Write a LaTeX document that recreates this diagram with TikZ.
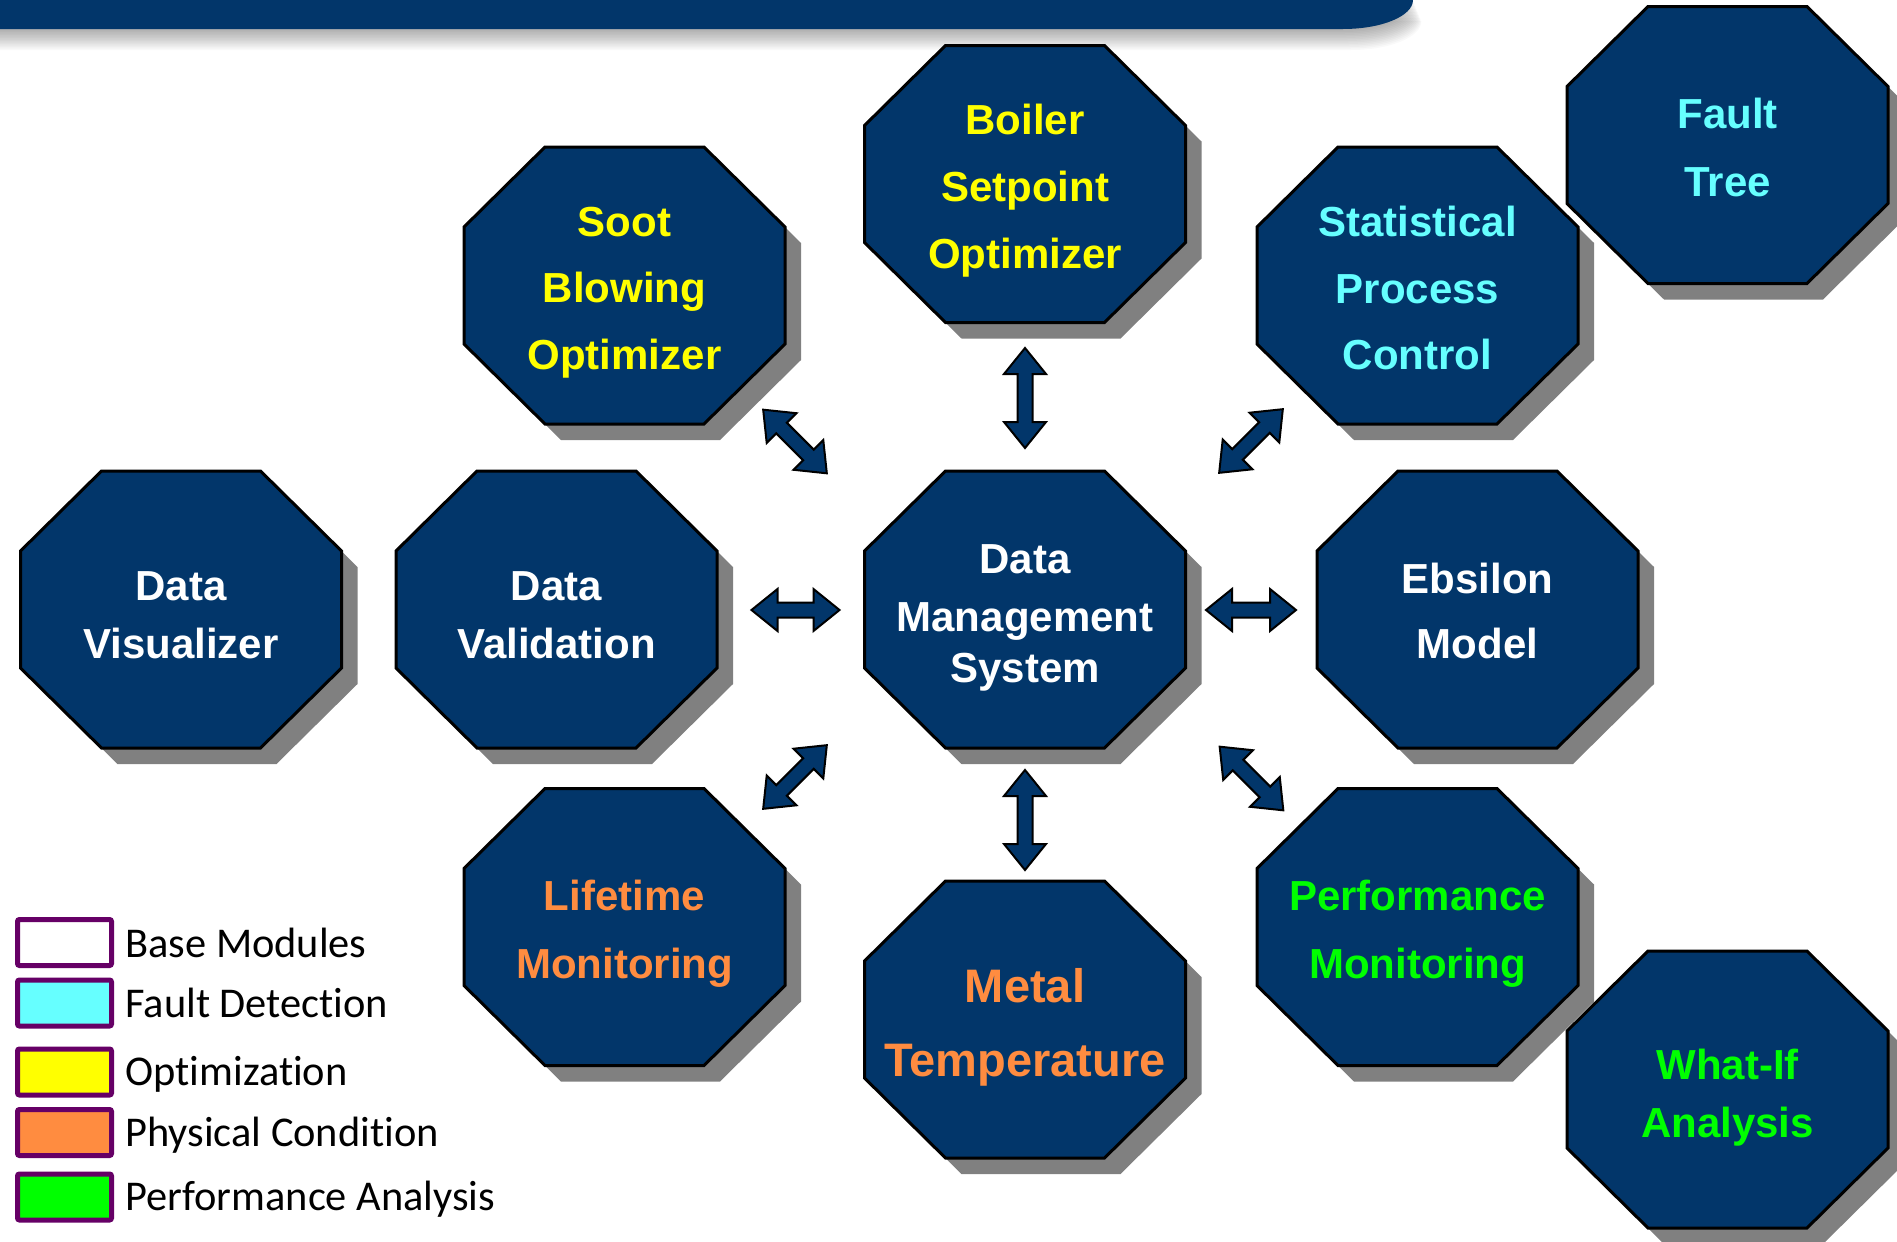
\documentclass[tikz,border=0pt]{standalone}
\usepackage{fontspec}
\setmainfont{Liberation Sans}
\newfontfamily\legendfont[Ligatures=NoCommon]{Carlito}

% palette
\definecolor{navy}{RGB}{2,54,106}
\definecolor{shadowgray}{RGB}{128,128,128}
\definecolor{optyellow}{RGB}{255,255,0}
\definecolor{faultcyan}{RGB}{102,255,255}
\definecolor{physorange}{RGB}{255,140,64}
\definecolor{perfgreen}{RGB}{0,255,0}
\definecolor{keypurple}{RGB}{102,0,102}

\tikzset{
  modbody/.style={fill=navy, draw=black, line width=1.5pt, line join=miter},
  modshadow/.style={fill=shadowgray},
  modtext/.style={align=center, inner sep=0pt},
  blockarrow/.style={fill=navy, draw=black, line width=1pt, line join=miter},
  keybox/.style={draw=keypurple, line width=2.5pt, rounded corners=1pt,
    minimum width=47pt, minimum height=23pt, inner sep=0pt},
  keytext/.style={font=\legendfont\fontsize{21.2}{25}\selectfont,
    anchor=base west, inner sep=0pt},
  % double-headed block arrow, #1 = half length
  pics/dblarrow/.style={code={
    \draw[blockarrow] (-#1,0) -- (-#1+26,-21) -- (-#1+26,-7.5) -- (#1-26,-7.5)
      -- (#1-26,-21) -- (#1,0) -- (#1-26,21) -- (#1-26,7.5) -- (-#1+26,7.5)
      -- (-#1+26,21) -- cycle;
  }}
}

% octagonal module with drop shadow
% #1 name, #2 x, #3 y, #4 text colour, #5 font size, #6 label, #7 label drop
\newcommand\module[7]{%
  \fill[modshadow, shift={({#2+16},{#3+16})}]
    (-79.5,-138.5) -- (79.5,-138.5) -- (160.5,-58.5) -- (160.5,58.5)
    -- (79.5,138.5) -- (-79.5,138.5) -- (-160.5,58.5) -- (-160.5,-58.5) -- cycle;
  \draw[modbody, shift={(#2,#3)}]
    (-79.5,-138.5) -- (79.5,-138.5) -- (160.5,-58.5) -- (160.5,58.5)
    -- (79.5,138.5) -- (-79.5,138.5) -- (-160.5,58.5) -- (-160.5,-58.5) -- cycle;
  \node[modtext, text=#4, font=\bfseries#5\selectfont] (#1) at (#2,{#3+#7}) {#6};
}

\begin{document}
\begin{tikzpicture}[x=0.5pt, y=-0.5pt]
\useasboundingbox (0,0) rectangle (1897,1242);
\fill[white] (0,0) rectangle (1897,1242);

% soft shadow under the title bar
\foreach \i in {1,...,14}{
  \fill[black, opacity=0.022, shift={({0.6*\i},{1.5*\i})}]
    (-30,0) -- (1413,0) .. controls (1413,16) and (1382,29) .. (1343,29)
    -- (-30,29) -- cycle;
}
% title bar
\fill[navy] (-2,-2) -- (1413,-2) -- (1413,0) .. controls (1413,16) and (1382,29)
  .. (1343,29) -- (-2,29) -- cycle;

% modules
\module{soot}{624.5}{285.5}{optyellow}{\fontsize{21}{33.25}}{Soot\\Blowing\\Optimizer}{7}
\module{boiler}{1025}{184}{optyellow}{\fontsize{21}{33.5}}{Boiler\\Setpoint\\Optimizer}{7}
\module{spc}{1417.5}{285.5}{faultcyan}{\fontsize{21}{33.25}}{Statistical\\Process\\Control}{2.5}
\module{fault}{1727.5}{145}{faultcyan}{\fontsize{21}{34}}{Fault\\Tree}{2}
\module{datavis}{181}{609.5}{white}{\fontsize{21}{29}}{Data\\Visualizer}{6}
\module{dataval}{556.5}{609.5}{white}{\fontsize{21}{29}}{Data\\Validation}{6}
\module{dms}{1025}{609.5}{white}{\fontsize{21}{25.5}}{Data\\[3.5pt]Management\\System}{8.5}
\module{ebsilon}{1477.5}{609.5}{white}{\fontsize{21}{32.5}}{Ebsilon\\Model}{1}
\module{lifetime}{624.5}{927}{physorange}{\fontsize{21}{34}}{Lifetime\\Monitoring}{7}
\module{metal}{1025}{1019.5}{physorange}{\fontsize{23.5}{37}}{Metal\\Temperature}{7.5}
\module{perfmon}{1417.5}{927}{perfgreen}{\fontsize{21}{34}}{Performance\\Monitoring}{7}
\module{whatif}{1727.5}{1089.5}{perfgreen}{\fontsize{21}{29}}{What-If\\Analysis}{8.5}

% data links around the data management system
\pic[rotate=90]  at (1025,398)   {dblarrow=50};
\pic[rotate=90]  at (1025,820)   {dblarrow=50};
\pic             at (795.5,610)  {dblarrow=44};
\pic             at (1251,610)   {dblarrow=45};
\pic[rotate=-45] at (795,441.5)  {dblarrow=45};
\pic[rotate=45]  at (1251,441)   {dblarrow=45};
\pic[rotate=45]  at (795,777)    {dblarrow=45};
\pic[rotate=-45] at (1251.5,778.5) {dblarrow=45};

% key
\node[keybox, fill=white]       (keybase)  at (64.5,942.5)  {};
\node[keybox, fill=faultcyan]   (keyfault) at (64.5,1003)   {};
\node[keybox, fill=optyellow]   (keyopt)   at (64.5,1072)   {};
\node[keybox, fill=physorange]  (keyphys)  at (64.5,1132.5) {};
\node[keybox, fill=perfgreen]   (keyperf)  at (64.5,1197)   {};
\node[keytext] (keybasetext)  at (125,957)    {Base Modules};
\node[keytext] (keyfaulttext) at (125,1017)   {Fault Detection};
\node[keytext] (keyopttext)   at (125,1085)   {Optimization};
\node[keytext] (keyphystext)  at (125,1146.5) {Physical Condition};
\node[keytext] (keyperftext)  at (125,1210)   {Performance Analysis};
\end{tikzpicture}
\end{document}
